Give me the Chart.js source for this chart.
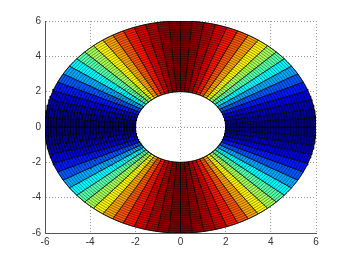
<!DOCTYPE html>
<html>
<head>
<meta charset="utf-8">
<script src="https://cdn.jsdelivr.net/npm/chart.js@4/dist/chart.umd.min.js"></script>
<style>
  html,body{margin:0;padding:0;background:#fff;}
  #c{display:block;}
</style>
</head>
<body>
<canvas id="c" width="350" height="262"></canvas>
<script>
// ---- data ----
const xTicks = [-6, -4, -2, 0, 2, 4, 6];
const yTicks = [-6, -4, -2, 0, 2, 4, 6];
const innerRadius = 2;
const outerRadius = 6;
// sector edges (degrees) within the first quadrant
const sectorEdgesDeg = [0, 5, 10, 15, 20, 25, 30, 35, 40, 45, 50, 55, 60, 65, 70, 75, 80, 85, 90];
// colour value (0..1 on jet scale) for each sector of the first quadrant
const sectorValues = [0.00, 0.02, 0.05, 0.09, 0.15, 0.21, 0.29, 0.37, 0.46, 0.54, 0.63, 0.71, 0.79, 0.85, 0.91, 0.95, 0.98, 1.00];
// mesh rings (radius values)
const ringRadii = [2.125, 2.25, 2.375, 2.5, 2.625, 2.75, 2.875, 3.0, 3.125, 3.25, 3.375, 3.5, 3.625, 3.75, 3.875, 4.0,
                   4.125, 4.25, 4.375, 4.5, 4.625, 4.75, 4.875, 5.0, 5.125, 5.25, 5.375, 5.5, 5.625, 5.75, 5.875];

// ---- helpers ----
function jet(v) {
  const c = (t) => Math.max(0, Math.min(1, t));
  const r = c(1.5 - Math.abs(4 * v - 3));
  const g = c(1.5 - Math.abs(4 * v - 2));
  const b = c(1.5 - Math.abs(4 * v - 1));
  return `rgb(${Math.round(r * 255)},${Math.round(g * 255)},${Math.round(b * 255)})`;
}
function pt(r, deg) {
  const a = deg * Math.PI / 180;
  return { x: r * Math.cos(a), y: r * Math.sin(a) };
}
function sectorPolygon(a1, a2) {
  const pts = [];
  const n = Math.max(2, Math.ceil(Math.abs(a2 - a1)));
  for (let i = 0; i <= n; i++) pts.push(pt(innerRadius, a1 + (a2 - a1) * i / n));
  for (let i = n; i >= 0; i--) pts.push(pt(outerRadius, a1 + (a2 - a1) * i / n));
  pts.push(pts[0]);
  return pts;
}
function circle(r) {
  const pts = [];
  for (let d = 0; d <= 360; d += 1) pts.push(pt(r, d));
  return pts;
}

// build sectors for all four quadrants (figure is mirror symmetric)
const datasets = [];
const quadrants = [
  { map: (a) => a },          // Q1
  { map: (a) => 180 - a },    // Q2
  { map: (a) => 180 + a },    // Q3
  { map: (a) => 360 - a }     // Q4
];
quadrants.forEach(q => {
  for (let i = 0; i < sectorValues.length; i++) {
    const a1 = q.map(sectorEdgesDeg[i]);
    const a2 = q.map(sectorEdgesDeg[i + 1]);
    const col = jet(sectorValues[i]);
    datasets.push({
      data: sectorPolygon(a1, a2),
      showLine: true,
      pointRadius: 0,
      borderColor: 'rgba(0,0,0,0.85)',
      borderWidth: 0.8,
      backgroundColor: col,
      fill: 'shape',
      order: 3,
      tension: 0
    });
  }
});
ringRadii.forEach(r => {
  datasets.push({
    data: circle(r),
    showLine: true,
    pointRadius: 0,
    borderColor: 'rgba(0,0,0,0.55)',
    borderWidth: 0.8,
    fill: false,
    order: 2,
    tension: 0
  });
});
[innerRadius, outerRadius].forEach(r => {
  datasets.push({
    data: circle(r),
    showLine: true,
    pointRadius: 0,
    borderColor: 'rgba(0,0,0,0.9)',
    borderWidth: 0.8,
    fill: false,
    order: 1,
    tension: 0
  });
});

const tickFont = { family: 'Liberation Sans, Arial, sans-serif', size: 10 };

new Chart(document.getElementById('c'), {
  type: 'scatter',
  data: { datasets },
  options: {
    responsive: false,
    animation: false,
    events: [],
    layout: { padding: { left: 0, top: 21, right: 34, bottom: 0 } },
    plugins: { legend: { display: false }, tooltip: { enabled: false } },
    scales: {
      x: {
        type: 'linear', min: xTicks[0], max: xTicks[xTicks.length - 1],
        afterBuildTicks: (s) => { s.ticks = xTicks.map(v => ({ value: v })); },
        afterFit: (s) => { s.height = 29; },
        ticks: { color: '#333', font: tickFont, padding: 3, maxRotation: 0 },
        grid: { color: '#9a9a9a', lineWidth: 1, drawTicks: false },
        border: { display: true, color: '#555', width: 1, dash: [1, 2] }
      },
      y: {
        type: 'linear', min: yTicks[0], max: yTicks[yTicks.length - 1],
        afterBuildTicks: (s) => { s.ticks = yTicks.map(v => ({ value: v })); },
        afterFit: (s) => { s.width = 45; },
        ticks: { color: '#333', font: tickFont, padding: 4 },
        grid: { color: '#9a9a9a', lineWidth: 1, drawTicks: false },
        border: { display: true, color: '#555', width: 1, dash: [1, 2] }
      }
    }
  }
});
</script>
</body>
</html>
